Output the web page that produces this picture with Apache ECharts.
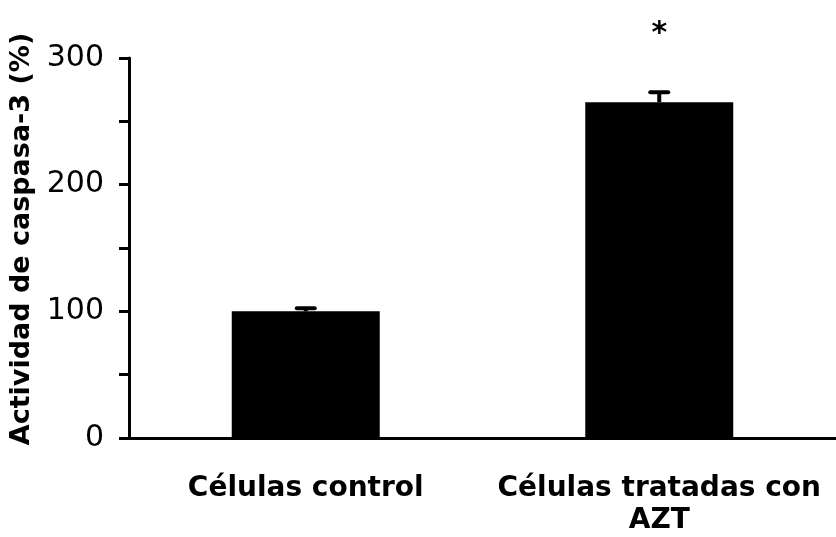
<!DOCTYPE html>
<html>
<head>
<meta charset="utf-8">
<script src="https://cdn.jsdelivr.net/npm/echarts@6/dist/echarts.min.js"></script>
<style>
  html, body { margin: 0; padding: 0; background: #fff; }
  #chart { width: 836px; height: 537px; }
</style>
</head>
<body>
<div id="chart"></div>
<script>
// Caspase-3 activity, control vs AZT-treated cells
const categories = ['Células control', 'Células tratadas con\nAZT'];
const meanValues = [100, 265];
const errorValues = [2.5, 8];
const significance = ['', '*'];
const yTickLabels = ['0', '100', '200', '300'];
const yTitle = 'Actividad de caspasa-3 (%)';

const chart = echarts.init(document.getElementById('chart'), null, { renderer: 'canvas' });

const errorData = categories.map((c, i) => [i, meanValues[i], errorValues[i]]);

chart.setOption({
  animation: false,
  backgroundColor: '#ffffff',
  grid: { left: 129, top: 58, width: 712, height: 380, containLabel: false },
  graphic: [
    {
      type: 'text',
      x: 22,
      y: 239,
      rotation: Math.PI / 2,
      style: {
        text: yTitle,
        align: 'center',
        verticalAlign: 'middle',
        fill: '#000',
        font: 'bold 27px "DejaVu Sans"'
      }
    }
  ],
  xAxis: {
    type: 'category',
    data: categories,
    axisLine: { lineStyle: { color: '#000', width: 3 } },
    axisTick: { show: false },
    axisLabel: {
      interval: 0,
      color: '#000',
      fontFamily: 'DejaVu Sans',
      fontWeight: 'bold',
      fontSize: 28,
      lineHeight: 32,
      margin: 35
    }
  },
  yAxis: {
    type: 'value',
    min: 0,
    max: 300,
    interval: 50,
    splitLine: { show: false },
    axisLine: { show: true, lineStyle: { color: '#000', width: 3 } },
    axisTick: { show: true, length: 10, lineStyle: { color: '#000', width: 3 } },
    axisLabel: {
      color: '#000',
      fontFamily: 'DejaVu Sans',
      fontSize: 30,
      margin: 25,
      padding: [3, 0, 0, 0],
      formatter: v => (yTickLabels.indexOf(String(v)) >= 0 ? String(v) : '')
    }
  },
  series: [
    {
      type: 'bar',
      data: meanValues,
      barWidth: 148,
      itemStyle: { color: '#000' },
      z: 2
    },
    {
      type: 'custom',
      data: errorData,
      z: 3,
      renderItem: function (params, api) {
        const i = api.value(0);
        const mean = api.value(1);
        const err = api.value(2);
        const mark = significance[i];
        const base = api.coord([i, mean]);
        const top = api.coord([i, mean + err]);
        const cap = 9;
        const children = [
          {
            type: 'line',
            shape: { x1: base[0], y1: base[1], x2: top[0], y2: top[1] },
            style: { stroke: '#000', lineWidth: 4 }
          },
          {
            type: 'line',
            shape: { x1: top[0] - cap, y1: top[1], x2: top[0] + cap, y2: top[1] },
            style: { stroke: '#000', lineWidth: 4, lineCap: 'round' }
          }
        ];
        if (mark) {
          children.push({
            type: 'text',
            style: {
              text: mark,
              x: top[0],
              y: top[1] - 58,
              align: 'center',
              verticalAlign: 'middle',
              fill: '#000',
              font: 'bold 30px "DejaVu Sans"'
            }
          });
        }
        return { type: 'group', children: children };
      }
    }
  ]
});
</script>
</body>
</html>
